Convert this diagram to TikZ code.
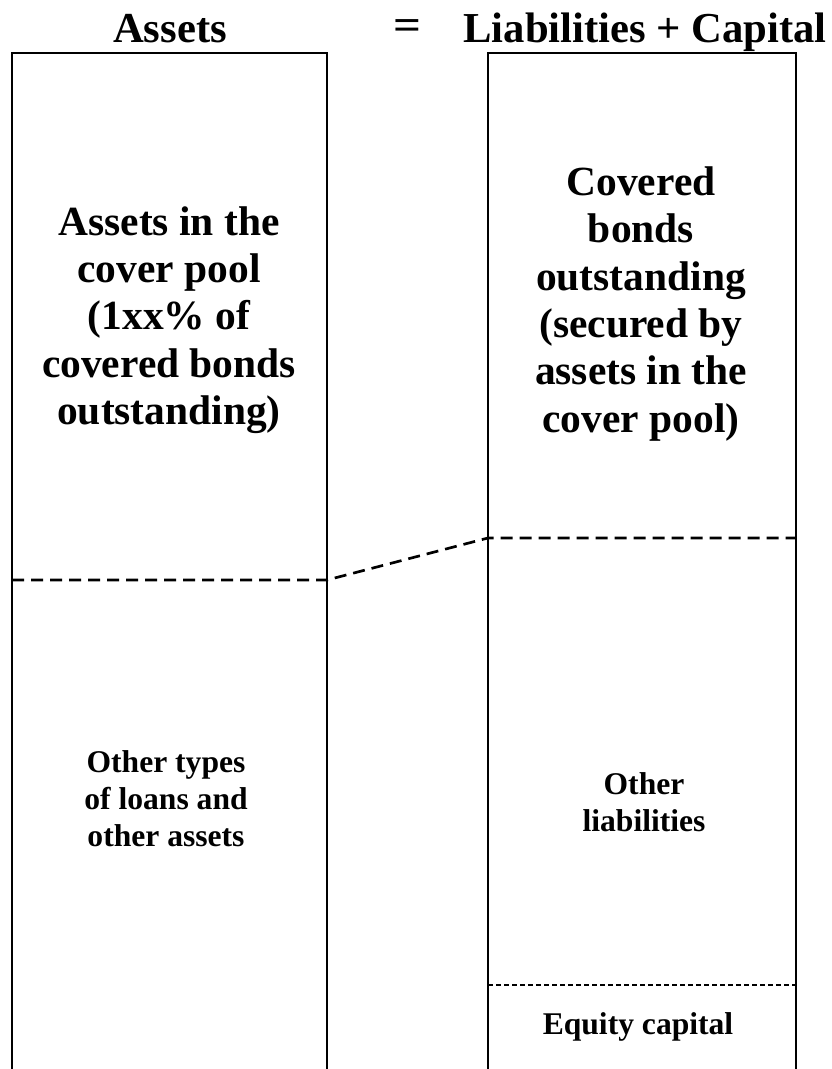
\documentclass[tikz,border=0pt]{standalone}
\usepackage{fontspec}
\setmainfont{Liberation Serif}

\begin{document}
\begin{tikzpicture}[x=0.75pt, y=-0.75pt,
  heading/.style={font=\bfseries\fontsize{32}{36}\selectfont},
  bigtext/.style={font=\bfseries\fontsize{31.1}{35.5}\selectfont, align=center},
  smalltext/.style={font=\bfseries\fontsize{23.7}{27.8}\selectfont, align=center},
  column/.style={line width=1.5pt},
  poolline/.style={line width=2pt, dash pattern=on 9pt off 5.25pt},
  equityline/.style={line width=0.9pt, dash pattern=on 3.75pt off 2.25pt}]
  \useasboundingbox (0,0) rectangle (831,1069);

  % headings
  \node[heading, anchor=base] (assets) at (170,43) {Assets};
  \node[heading, xscale=1.15] (equals) at (407,30) {=};
  \node[heading, anchor=base] (liab) at (645,43) {Liabilities + Capital};

  % the two columns, open at the bottom
  \draw[column] (12,1069) -- (12,53) -- (327,53) -- (327,1069);
  \draw[column] (488,1069) -- (488,53) -- (796,53) -- (796,1069);

  % cover pool boundary, left and right
  \coordinate (poolL) at (12,580);
  \coordinate (poolLend) at (327,580);
  \coordinate (poolR) at (488,538);
  \coordinate (poolRend) at (796,538);
  \draw[poolline] (poolL) -- (poolLend) -- (poolR) -- (poolRend);

  % equity capital boundary
  \coordinate (eqL) at (488,985);
  \coordinate (eqR) at (796,985);
  \draw[equityline] (eqL) -- (eqR);

  % left column
  \node[bigtext] (pool) at (169,320) {Assets in the\\cover pool\\(1xx\% of\\covered bonds\\outstanding)};
  \node[smalltext] (other) at (166,799) {Other types\\of loans and\\other assets};

  % right column
  \node[bigtext] (bonds) at (641,304) {Covered\\bonds\\outstanding\\(secured by\\assets in the\\cover pool)};
  \node[smalltext] (otherliab) at (644,802) {Other\\liabilities};
  \node[smalltext] (equity) at (638,1027) {Equity capital};
\end{tikzpicture}
\end{document}
